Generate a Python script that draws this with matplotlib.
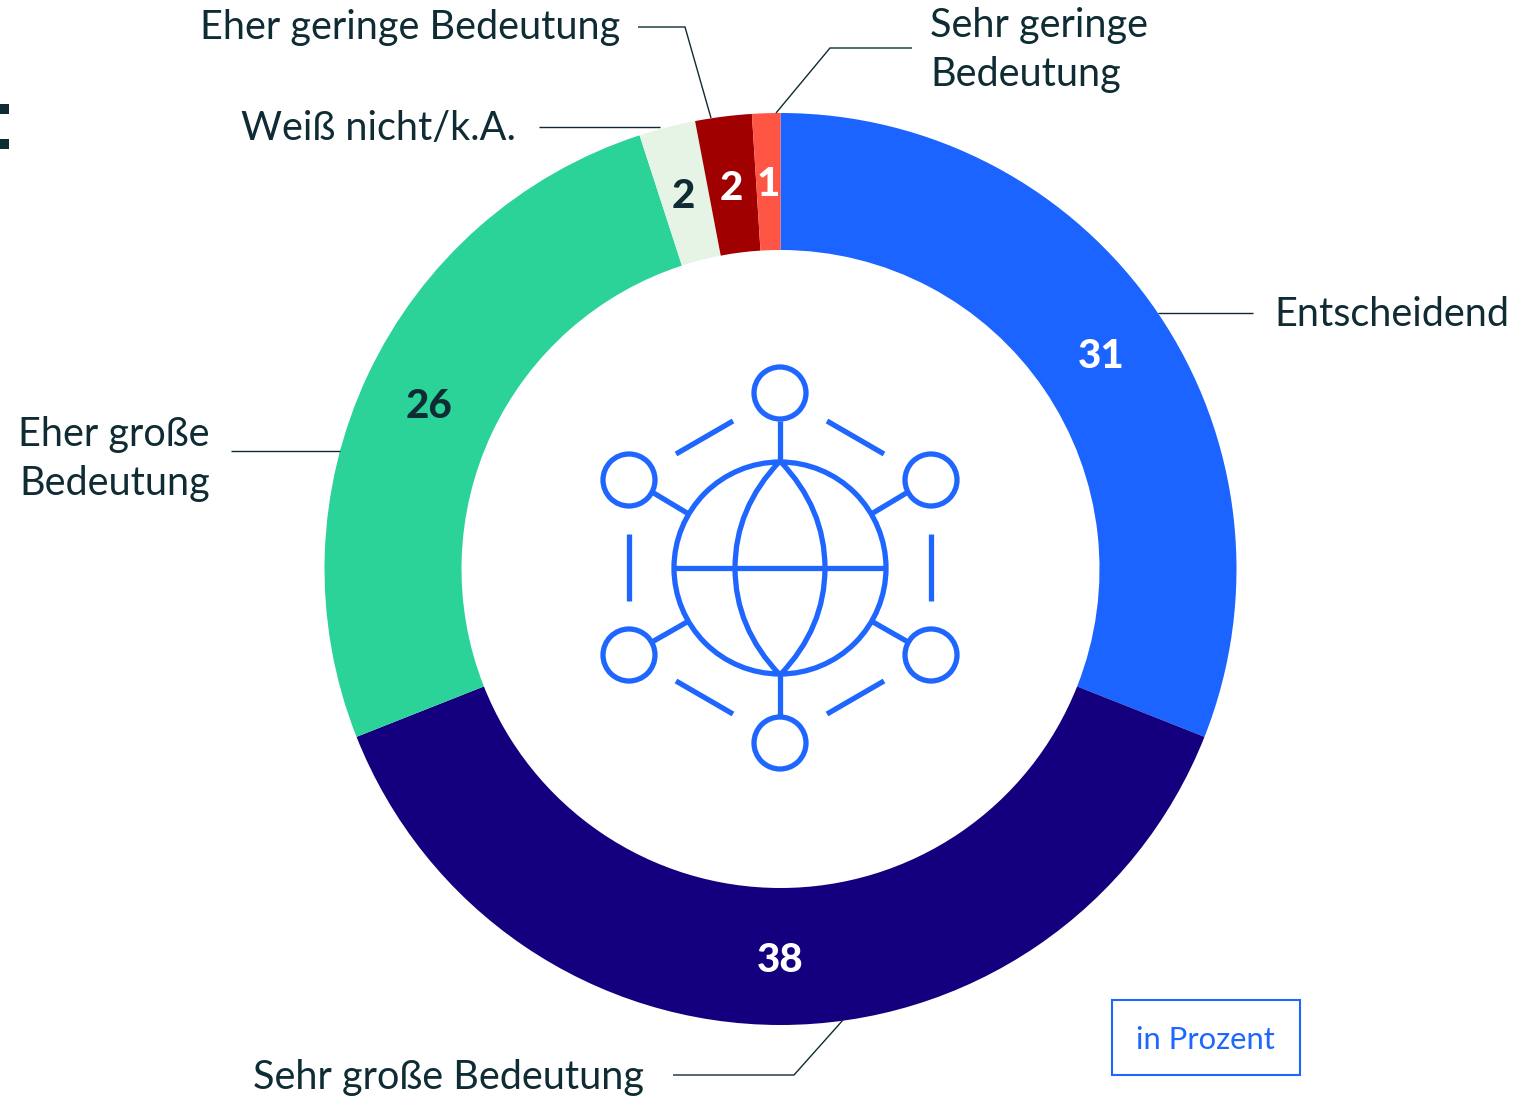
import matplotlib
matplotlib.use("Agg")
import matplotlib.pyplot as plt
from matplotlib.patches import Circle, PathPatch, Rectangle
from matplotlib.path import Path

categories = ["Entscheidend", "Sehr große Bedeutung", "Eher große Bedeutung",
              "Weiß nicht/k.A.", "Eher geringe Bedeutung", "Sehr geringe Bedeutung"]
values = [31, 38, 26, 2, 2, 1]
colors = ["#1C64FF", "#14007F", "#2BD399", "#E6F4E6", "#A00000", "#FF5544"]
value_colors = ["white", "white", "#0F2B33", "#0F2B33", "white", "white"]

W, H = 1532, 1098
DARK = "#0F2B33"
BLUE = "#1F66FF"
FONT = "Lato"

fig = plt.figure(figsize=(W / 100, H / 100), dpi=100)
ax = fig.add_axes([0, 0, 1, 1])
Y = lambda y: H - y

ax.pie(values, colors=colors, startangle=90, counterclock=False,
       center=(780.5, Y(569)), radius=456,
       wedgeprops=dict(width=137, linewidth=0))
ax.set_xlim(0, W)
ax.set_ylim(0, H)
ax.set_aspect("equal")
ax.axis("off")

# value labels
value_pos = [(1101, 356), (780, 960), (429, 406), (683, 197), (731, 188), (768, 185)]
for v, c, (x, y) in zip(values, value_colors, value_pos):
    ax.text(x, Y(y), str(v), color=c, fontsize=29, fontweight=900,
            family=FONT, ha="center", va="center")

# category labels
labels = [
    ("Eher geringe Bedeutung", 620, 27, "right"),
    ("Sehr geringe\nBedeutung", 930, 50, "left"),
    ("Weiß nicht/k.A.", 516, 128, "right"),
    ("Entscheidend", 1274, 315, "left"),
    ("Eher große\nBedeutung", 210, 459, "right"),
    ("Sehr große Bedeutung", 644, 1077, "right"),
]
for t, x, y, ha in labels:
    ax.text(x, Y(y), t, color=DARK, fontsize=28.5, family=FONT, ha=ha, va="center",
            multialignment=ha, linespacing=1.38)

# leader lines
leaders = [
    [(638, 27), (685, 27), (711, 118)],
    [(912, 48), (830, 48), (776, 113)],
    [(539, 127), (660, 127)],
    [(1158, 313), (1253, 313)],
    [(231, 451), (340, 451)],
    [(673, 1075), (794, 1075), (843, 1020)],
]
for pts in leaders:
    ax.plot([p[0] for p in pts], [Y(p[1]) for p in pts], color=DARK, lw=1.0,
            solid_capstyle="butt", solid_joinstyle="miter")

# unit box
ax.add_patch(Rectangle((1111.5, Y(1075)), 188, 75, fc="none", ec=BLUE, lw=1.5))
ax.text(1205.5, Y(1040), "in Prozent", color=BLUE, fontsize=22.3, family=FONT,
        ha="center", va="center")

# remnant of a cropped glyph at the left edge
for top, bottom in [(104, 114), (139, 149)]:
    ax.add_patch(Rectangle((0, Y(bottom)), 8.5, bottom - top, fc=DARK, ec="none"))

# globe icon
lw = 3.8
cx, cy = 780, 568
ax.add_patch(Circle((cx, Y(cy)), 106, fc="none", ec=BLUE, lw=lw))
for sx, sy in [(0, -175), (151, -88), (151, 87), (0, 175), (-151, 87), (-151, -88)]:
    ax.add_patch(Circle((cx + sx, Y(cy + sy)), 26, fc="none", ec=BLUE, lw=lw))
for sgn in (-1, 1):
    ax.add_patch(PathPatch(Path(
        [(cx, Y(cy - 107)), (cx + sgn * 45, Y(cy - 60)), (cx + sgn * 45, Y(cy)),
         (cx + sgn * 45, Y(cy + 60)), (cx, Y(cy + 107))],
        [Path.MOVETO, Path.CURVE3, Path.CURVE3, Path.CURVE3, Path.CURVE3]),
        fc="none", ec=BLUE, lw=lw))
segments = [
    [(675, 568), (885, 568)],
    [(780, 421), (780, 461)], [(780, 675), (780, 715)],
    [(652, 492), (687, 513)], [(908, 492), (873, 513)],
    [(652, 642), (687, 622)], [(908, 642), (873, 622)],
    [(676, 454), (733, 421)], [(884, 454), (827, 421)],
    [(676, 681), (733, 714)], [(884, 681), (827, 714)],
    [(629, 534), (629, 601)], [(931, 534), (931, 601)],
]
for (x0, y0), (x1, y1) in segments:
    ax.plot([x0, x1], [Y(y0), Y(y1)], color=BLUE, lw=lw, solid_capstyle="butt")

fig.savefig("out.png", dpi=100)
